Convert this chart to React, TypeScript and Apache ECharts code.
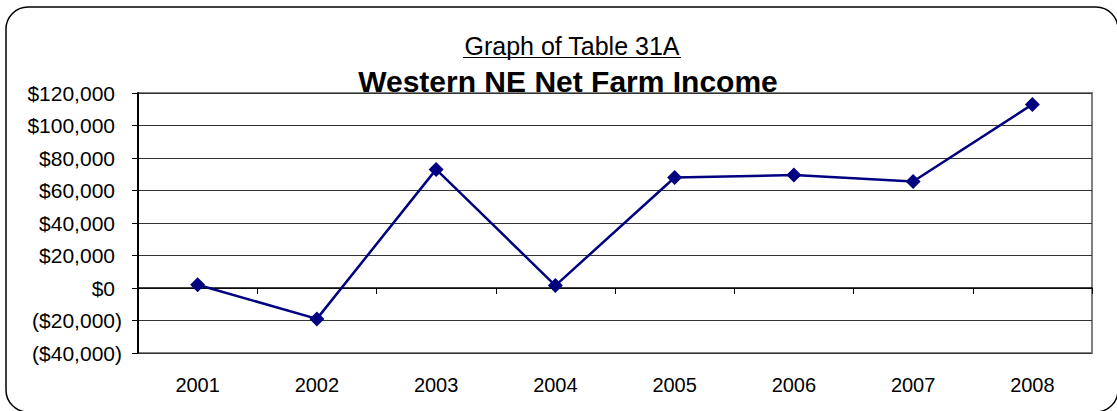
import React, { useEffect, useRef } from "react";
import * as echarts from "echarts";

const years = ["2001", "2002", "2003", "2004", "2005", "2006", "2007", "2008"];
const netFarmIncome = [2000, -19000, 73000, 1500, 68000, 69500, 65500, 113000];
const subtitle = "Graph of Table 31A";
const mainTitle = "Western NE Net Farm Income";

const FONT = "'Liberation Sans', Arial, sans-serif";

function fmt(v: number): string {
  const s = "$" + Math.abs(v).toLocaleString("en-US");
  return v < 0 ? "{n|(" + s + ")}" : "{p|" + s + "}";
}

export default function App() {
  const ref = useRef<HTMLDivElement>(null);
  useEffect(() => {
    document.body.style.margin = "0";
    const chart = echarts.init(ref.current!, null, { renderer: "svg" });
    chart.setOption({
      animation: false,
      backgroundColor: "#fff",
      graphic: [
        {
          type: "rect",
          shape: { x: 6, y: 7, width: 1112, height: 405, r: 22 },
          style: { fill: "none", stroke: "#000", lineWidth: 1.5 },
          z: 0,
        },
        {
          type: "text",
          x: 572,
          y: 46,
          style: {
            text: subtitle,
            fontFamily: FONT,
            fontSize: 25,
            fill: "#000",
            textAlign: "center",
            textVerticalAlign: "middle",
          },
        },
        {
          type: "line",
          shape: { x1: 463, y1: 57.5, x2: 681, y2: 57.5 },
          style: { stroke: "#000", lineWidth: 1.2 },
        },
        {
          type: "text",
          x: 568,
          y: 81,
          z: 10,
          style: {
            text: mainTitle,
            fontFamily: FONT,
            fontSize: 30,
            fontWeight: "bold",
            fill: "#000",
            textAlign: "center",
            textVerticalAlign: "middle",
          },
        },
      ],
      grid: {
        left: 138,
        right: 25,
        top: 93,
        bottom: 58,
        show: true,
        borderColor: "#808080",
        borderWidth: 2,
        backgroundColor: "#fff",
      },
      xAxis: [
        {
          type: "category",
          data: years,
          boundaryGap: true,
          axisLine: { show: true, onZero: true, lineStyle: { color: "#000", width: 1.5 } },
          axisTick: { show: true, length: 6, lineStyle: { color: "#000" } },
          axisLabel: { show: false },
          splitLine: { show: false },
        },
        {
          type: "category",
          data: years,
          position: "bottom",
          boundaryGap: true,
          axisLine: { show: false, onZero: false },
          axisTick: { show: false },
          axisLabel: { show: true, margin: 22, fontFamily: FONT, fontSize: 20, color: "#000" },
          splitLine: { show: false },
        },
      ],
      yAxis: {
        type: "value",
        min: -40000,
        max: 120000,
        interval: 20000,
        axisLine: { show: true, lineStyle: { color: "#000", width: 2 } },
        axisTick: { show: true, length: 6, lineStyle: { color: "#000" } },
        splitLine: { show: true, lineStyle: { color: "#333", width: 1 } },
        axisLabel: {
          margin: 16,
          formatter: (v: number) => fmt(v),
          rich: {
            p: { fontFamily: FONT, fontSize: 21, color: "#000", padding: [0, 7, 0, 0] },
            n: { fontFamily: FONT, fontSize: 21, color: "#000" },
          },
        },
      },
      series: [
        {
          type: "line",
          xAxisIndex: 0,
          data: netFarmIncome,
          symbol: "diamond",
          symbolSize: 15,
          lineStyle: { color: "#000080", width: 2.5 },
          itemStyle: { color: "#000080" },
          z: 5,
        },
      ],
    });
    return () => chart.dispose();
  }, []);
  return <div ref={ref} style={{ width: 1117, height: 411 }} />;
}
